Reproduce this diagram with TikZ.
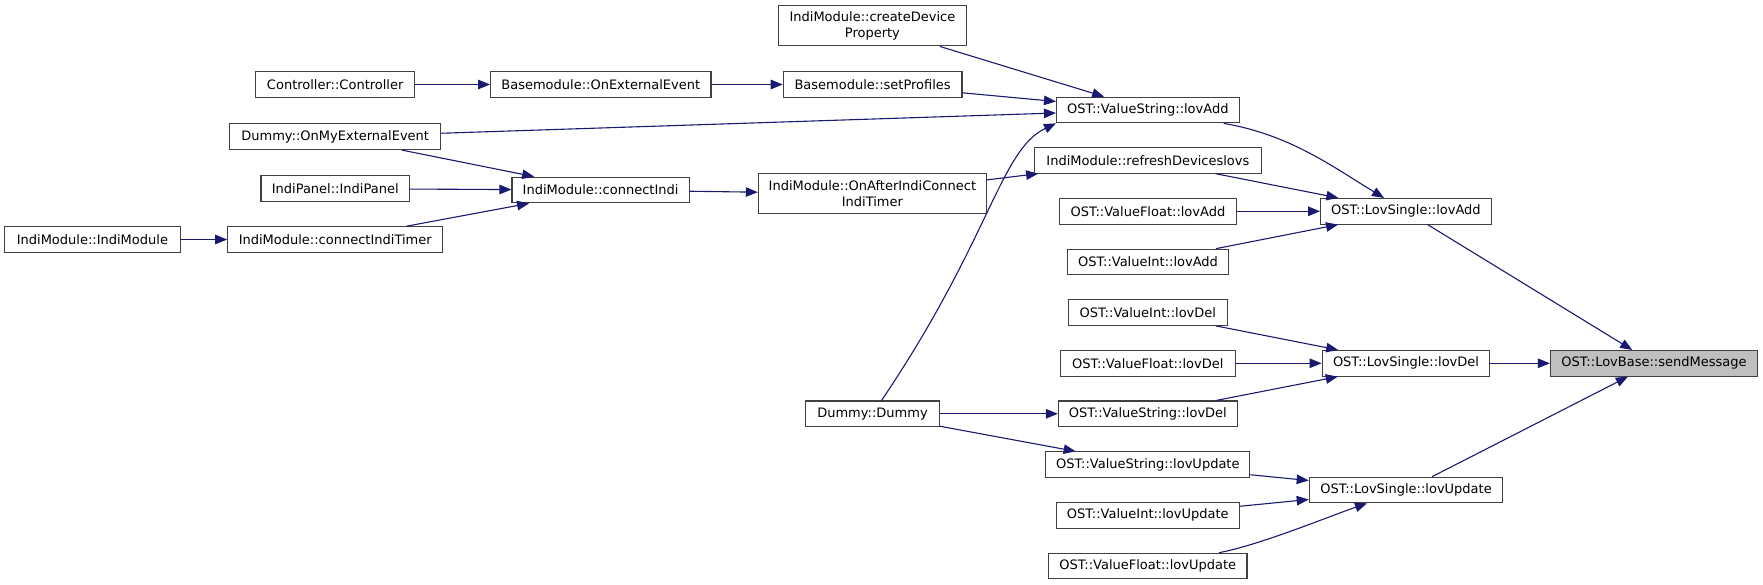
\documentclass[tikz,border=0pt]{standalone}
\usepackage{fontspec}
\setmainfont{DejaVu Sans}
\usepackage{tikz}
\usetikzlibrary{arrows.meta}
\definecolor{boxline}{HTML}{404040}
\definecolor{callblue}{HTML}{191970}
\definecolor{focusgray}{HTML}{BFBFBF}
\tikzset{
  fnbox/.style    = {draw=boxline,fill=white,line width=1.1pt,minimum height=25.6pt,inner sep=0pt,
                     font=\fontsize{13}{15.3}\selectfont,align=center},
  fnboxtwo/.style = {fnbox,minimum height=40.3pt},
  callarr/.style  = {-{Triangle[length=12pt,width=9.5pt]},callblue,line width=1.1pt}
}

\begin{document}
\begin{tikzpicture}[x=1pt,y=-1pt]
  \useasboundingbox (0,0) rectangle (1763,585);
  \node[fnbox,minimum width=175.6] (indimod)   at (92.4,239.5)   {IndiModule::IndiModule};
  \node[fnbox,minimum width=159.2] (ctrl)      at (335.2,84.5)   {Controller::Controller};
  \node[fnbox,minimum width=211.2] (onmyext)   at (335.2,136.7)  {Dummy::OnMyExternalEvent};
  \node[fnbox,minimum width=148.4] (indipanel) at (335.2,188.7)  {IndiPanel::IndiPanel};
  \node[fnbox,minimum width=215.0] (conntimer) at (335.2,239.5)  {IndiModule::connectIndiTimer};
  \node[fnbox,minimum width=220.4] (onext)     at (600.8,84.5)   {Basemodule::OnExternalEvent};
  \node[fnbox,minimum width=177.2] (connindi)  at (600.6,190)    {IndiModule::connectIndi};
  \node[fnboxtwo,minimum width=188.3] (createdev) at (872.4,25.8)  {IndiModule::createDevice\\Property};
  \node[fnbox,minimum width=178.7] (setprof)   at (872.6,84.5)   {Basemodule::setProfiles};
  \node[fnboxtwo,minimum width=228.1] (afterconn) at (872.4,193.8) {IndiModule::OnAfterIndiConnect\\IndiTimer};
  \node[fnbox,minimum width=133.9] (dummy)     at (872.5,413.8)  {Dummy::Dummy};
  \node[fnbox,minimum width=182.6] (strAdd)    at (1147.8,110)   {OST::ValueString::lovAdd};
  \node[fnbox,minimum width=227.1] (refresh)   at (1147.9,160.3) {IndiModule::refreshDeviceslovs};
  \node[fnbox,minimum width=177.4] (fltAdd)    at (1147.9,211.3) {OST::ValueFloat::lovAdd};
  \node[fnbox,minimum width=161.5] (intAdd)    at (1148,262)     {OST::ValueInt::lovAdd};
  \node[fnbox,minimum width=158.9] (intDel)    at (1147.85,312.5) {OST::ValueInt::lovDel};
  \node[fnbox,minimum width=174.9] (fltDel)    at (1147.75,363.3) {OST::ValueFloat::lovDel};
  \node[fnbox,minimum width=178.9] (strDel)    at (1147.85,413.8) {OST::ValueString::lovDel};
  \node[fnbox,minimum width=204.1] (strUpd)    at (1147.85,464.7) {OST::ValueString::lovUpdate};
  \node[fnbox,minimum width=182.6] (intUpd)    at (1147.8,515.3)  {OST::ValueInt::lovUpdate};
  \node[fnbox,minimum width=198.5] (fltUpd)    at (1147.75,566)   {OST::ValueFloat::lovUpdate};
  \node[fnbox,minimum width=170.6] (singleAdd) at (1405.9,211.3) {OST::LovSingle::lovAdd};
  \node[fnbox,minimum width=167.7] (singleDel) at (1406,363.3)   {OST::LovSingle::lovDel};
  \node[fnbox,minimum width=193.5] (singleUpd) at (1406,490)     {OST::LovSingle::lovUpdate};
  \node[fnbox,fill=focusgray,minimum width=207.2] (sendmsg) at (1654,363.3) {OST::LovBase::sendMessage};

  \draw[callarr] (indimod) -- (conntimer);
  \draw[callarr] (ctrl) -- (onext);
  \draw[callarr] (onmyext) -- (connindi);
  \draw[callarr] (indipanel) -- (connindi);
  \draw[callarr] (conntimer) -- (connindi);
  \draw[callarr] (onmyext) -- (strAdd);
  \draw[callarr] (onext) -- (setprof);
  \draw[callarr] (connindi) -- (afterconn);
  \draw[callarr] (createdev) -- (strAdd);
  \draw[callarr] (setprof) -- (strAdd);
  \draw[callarr] (afterconn) -- (refresh);
  \draw[callarr] (dummy) .. controls (990,240) and (1000,150) .. (strAdd.south west);
  \draw[callarr] (dummy) -- (strDel);
  \draw[callarr] (dummy) -- (strUpd);
  \draw[callarr] (strAdd) .. controls (1290,135) and (1330,165) .. (singleAdd);
  \draw[callarr] (refresh) -- (singleAdd);
  \draw[callarr] (fltAdd) -- (singleAdd);
  \draw[callarr] (intAdd) -- (singleAdd);
  \draw[callarr] (intDel) -- (singleDel);
  \draw[callarr] (fltDel) -- (singleDel);
  \draw[callarr] (strDel) -- (singleDel);
  \draw[callarr] (strUpd) -- (singleUpd);
  \draw[callarr] (intUpd) -- (singleUpd);
  \draw[callarr] (fltUpd) .. controls (1260,545) and (1330,516) .. (singleUpd);
  \draw[callarr] (singleAdd) -- (sendmsg);
  \draw[callarr] (singleDel) -- (sendmsg);
  \draw[callarr] (singleUpd) -- (sendmsg);
\end{tikzpicture}
\end{document}
